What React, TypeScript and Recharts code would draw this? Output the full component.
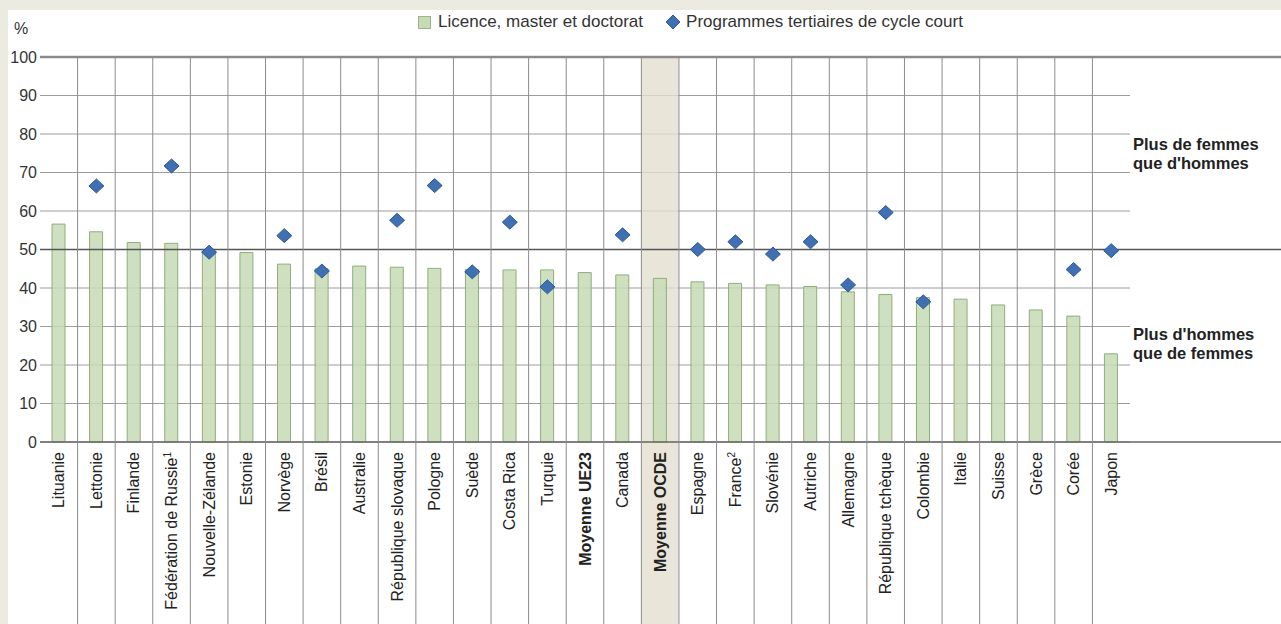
import React from 'react';
import { ComposedChart, Bar, Line, XAxis, YAxis, CartesianGrid, ReferenceLine } from 'recharts';

// part des femmes parmi les nouveaux diplômés, en %
const countries = [
  'Lituanie', 'Lettonie', 'Finlande', 'Fédération de Russie', 'Nouvelle-Zélande', 'Estonie', 'Norvège', 'Brésil',
  'Australie', 'République slovaque', 'Pologne', 'Suède', 'Costa Rica', 'Turquie', 'Moyenne UE23', 'Canada',
  'Moyenne OCDE', 'Espagne', 'France', 'Slovénie', 'Autriche', 'Allemagne', 'République tchèque', 'Colombie',
  'Italie', 'Suisse', 'Grèce', 'Corée', 'Japon',
];
const degreeShares = [
  56.6, 54.6, 51.8, 51.6, 49.6, 49.2, 46.2, 45.0, 45.7, 45.4, 45.1, 44.8, 44.7, 44.7, 44.0, 43.4,
  42.5, 41.6, 41.2, 40.8, 40.4, 39.0, 38.3, 37.5, 37.1, 35.6, 34.3, 32.7, 22.9,
];
const shortCycleShares: (number | null)[] = [
  null, 66.5, null, 71.7, 49.3, null, 53.6, 44.4, null, 57.6, 66.6, 44.2, 57.1, 40.3, null, 53.8,
  null, 50.0, 52.0, 48.8, 52.0, 40.8, 59.6, 36.4, null, null, null, 44.8, 49.7,
];
const yTicks = [0, 10, 20, 30, 40, 50, 60, 70, 80, 90, 100];
const averages = ['Moyenne UE23', 'Moyenne OCDE'];
const highlighted = 'Moyenne OCDE';
const footnotes: Record<string, string> = { 'Fédération de Russie': '1', France: '2' };

const data = countries.map((name, i) => ({
  name,
  degree: degreeShares[i],
  shortCycle: shortCycleShares[i],
}));

const CHART_W = 1273;
const CHART_H = 614;
const TOP = 47;
const RIGHT = 151;
const Y_W = 32;
const BAND = (CHART_W - RIGHT - Y_W) / countries.length;
const FONT = '"Liberation Sans", Arial, sans-serif';

const CountryTick = (props: any) => {
  const { x, y, payload, index } = props;
  const half = payload && payload.offset > 0 ? payload.offset : BAND / 2;
  const label: string = payload.value;
  const sup = footnotes[label];
  return (
    <g>
      {index > 0 && (
        <line x1={x - half} x2={x - half} y1={TOP} y2={CHART_H} stroke="#8c8c8c" strokeWidth={1} />
      )}
      <text
        transform={`translate(${x + 5.5},${y + 10}) rotate(-90)`}
        textAnchor="end"
        fontSize={16}
        fontFamily={FONT}
        fontWeight={averages.includes(label) ? 700 : 400}
        fill="#222"
      >
        {label}
        {sup && (
          <tspan dy={-6} fontSize={10}>
            {sup}
          </tspan>
        )}
      </text>
    </g>
  );
};

// fond beige de la moyenne OCDE, sur toute la colonne jusqu'en bas des libellés
const HighlightBackground = (props: any) => {
  const { x, y, width, payload, index } = props;
  if (!payload || payload.name !== highlighted) return <g key={`bg-${index}`} />;
  const left = x - (BAND - width) / 2;
  return <rect key={`bg-${index}`} x={left} y={y} width={BAND} height={CHART_H - y} fill="#e4e0cf" fillOpacity={0.8} />;
};

const Diamond = (props: any) => {
  const { cx, cy, value, index } = props;
  if (value == null || cy == null) return <g key={`d-${index}`} />;
  return (
    <path
      key={`d-${index}`}
      d={`M${cx},${cy - 7} L${cx + 7.5},${cy} L${cx},${cy + 7} L${cx - 7.5},${cy} Z`}
      fill="#4070b2"
      stroke="#2c5a94"
      strokeWidth={1}
    />
  );
};

const wideLine = (color: string, width: number) => (p: any) => (
  <line x1={p.x1} y1={p.y1} x2={CHART_W} y2={p.y2} stroke={color} strokeWidth={width} />
);

const App: React.FC = () => (
  <div style={{ position: 'fixed', left: 0, top: 0, width: 1281, height: 624, background: '#ecebe1' }}>
    <div style={{ position: 'absolute', left: 8, top: 10, width: CHART_W, height: CHART_H, background: '#fff' }}>
      <ComposedChart
        width={CHART_W}
        height={CHART_H}
        data={data}
        margin={{ top: TOP, right: RIGHT, left: 0, bottom: 0 }}
        barCategoryGap={0}
      >
        <CartesianGrid vertical={false} stroke="#9c9c9c" strokeWidth={1} />
        <XAxis
          dataKey="name"
          interval={0}
          height={CHART_H - TOP - 385}
          axisLine={false}
          tickLine={false}
          tickSize={0}
          tickMargin={0}
          tick={<CountryTick />}
        />
        <YAxis
          domain={[0, 100]}
          ticks={yTicks}
          interval={0}
          width={Y_W}
          axisLine={false}
          tickLine={false}
          tickSize={0}
          tickMargin={3}
          tick={{ fontSize: 16, fill: '#333', fontFamily: FONT }}
        />
        <Bar
          dataKey="degree"
          barSize={13}
          fill="#c6dab4"
          fillOpacity={0.85}
          stroke="#8fae7c"
          strokeWidth={1}
          background={HighlightBackground}
          isAnimationActive={false}
        />
        <ReferenceLine y={100} ifOverflow="visible" shape={wideLine('#8a8a8a', 2.5)} />
        <ReferenceLine y={50} ifOverflow="visible" shape={wideLine('#555', 1.6)} />
        <ReferenceLine y={0} ifOverflow="visible" shape={wideLine('#666', 1.5)} />
        <Line
          dataKey="shortCycle"
          stroke="none"
          dot={Diamond}
          activeDot={false}
          legendType="diamond"
          isAnimationActive={false}
        />
        <text x={6} y={24} fontSize={16} fontFamily={FONT} fill="#333">
          %
        </text>
        <g fontFamily={FONT} fontSize={16.5} fontWeight={700} fill="#222">
          <text x={1125} y={140}>Plus de femmes</text>
          <text x={1125} y={159}>que d'hommes</text>
          <text x={1125} y={330}>Plus d'hommes</text>
          <text x={1125} y={349}>que de femmes</text>
        </g>
      </ComposedChart>
      <div
        style={{
          position: 'absolute',
          left: 410,
          top: 2,
          display: 'flex',
          alignItems: 'center',
          fontFamily: FONT,
          fontSize: 17,
          color: '#333',
          whiteSpace: 'nowrap',
        }}
      >
        <span style={{ width: 11, height: 11, background: '#c6dab4', border: '1px solid #9cb48a', marginRight: 7 }} />
        <span>Licence, master et doctorat</span>
        <svg width={16} height={16} style={{ marginLeft: 22, marginRight: 5 }}>
          <path d="M8,1 L15,8 L8,15 L1,8 Z" fill="#4070b2" stroke="#2c5a94" />
        </svg>
        <span>Programmes tertiaires de cycle court</span>
      </div>
    </div>
  </div>
);

export default App;
